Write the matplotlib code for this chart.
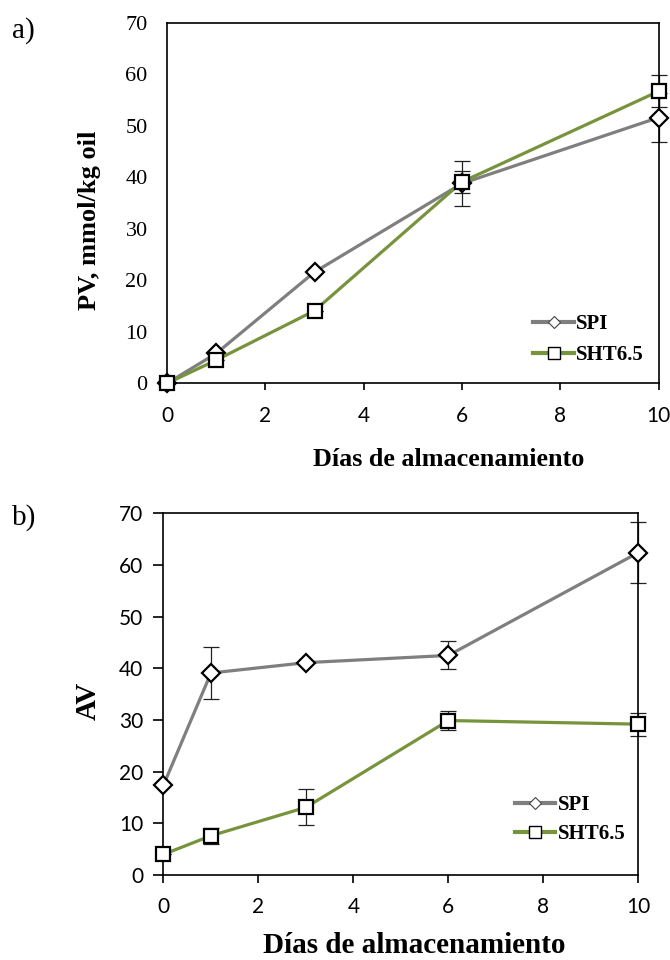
"""Peroxide value (PV) and anisidine value (AV) during storage, SPI vs SHT6.5."""

import matplotlib.pyplot as plt
from matplotlib.lines import Line2D

days = [0, 1, 3, 6, 10]

# a) PV, mmol/kg oil
pv_spi = [0.0, 5.8, 21.6, 38.8, 51.6]
pv_spi_err = [0.0, 0.0, 0.0, 4.4, 4.7]
pv_sht = [0.0, 4.5, 14.1, 39.1, 56.7]
pv_sht_err = [0.0, 0.0, 0.0, 2.2, 3.1]

# b) AV
av_spi = [17.4, 39.1, 41.1, 42.5, 62.4]
av_spi_err = [0.0, 5.1, 0.0, 2.7, 5.9]
av_sht = [4.0, 7.6, 13.1, 29.9, 29.2]
av_sht_err = [0.0, 1.5, 3.5, 1.9, 2.2]

GRAY = "#7F7F7F"
GREEN = "#77933C"
SERIF = "Liberation Serif"
SANS = "Lato"


def draw_panel(ax, spi, spi_err, sht, sht_err, legend_anchor, labelspacing):
    for y, err, color, marker, ms in [
        (spi, spi_err, GRAY, "D", 9),
        (sht, sht_err, GREEN, "s", 10),
    ]:
        ax.errorbar(days, y, yerr=err, fmt="none", ecolor="#222222",
                    elinewidth=0.9, capsize=5.5, capthick=0.9, clip_on=False, zorder=2)
        ax.plot(days, y, color=color, linewidth=2.3, marker=marker, markersize=ms,
                markerfacecolor="white", markeredgecolor="black",
                markeredgewidth=1.6, clip_on=False, zorder=3)

    ax.set_xlim(0, 10)
    ax.set_ylim(0, 70)
    ax.set_xticks([0, 2, 4, 6, 8, 10])
    ax.set_yticks(range(0, 80, 10))
    for spine in ax.spines.values():
        spine.set_linewidth(1.2)

    handles = [
        Line2D([], [], color=GRAY, linewidth=3, marker="D", markersize=6,
               markerfacecolor="white", markeredgecolor="#444444", markeredgewidth=0.8),
        Line2D([], [], color=GREEN, linewidth=3, marker="s", markersize=8,
               markerfacecolor="white", markeredgecolor="black", markeredgewidth=1.0),
    ]
    ax.legend(handles, ["SPI", "SHT6.5"], loc="center left", bbox_to_anchor=legend_anchor,
              frameon=False, borderaxespad=0, borderpad=0, handlelength=1.95,
              handletextpad=0.1, labelspacing=labelspacing,
              prop={"family": SERIF, "weight": "bold", "size": 15})


fig = plt.figure(figsize=(6.7, 9.6), dpi=100)

ax_a = fig.add_axes([0.2493, 0.6007, 0.7337, 0.3756])
draw_panel(ax_a, pv_spi, pv_spi_err, pv_sht, pv_sht_err, (0.745, 0.121), 0.54)
ax_a.tick_params(axis="y", length=0, pad=14)
ax_a.tick_params(axis="x", direction="out", length=5, width=1.2, pad=11)
for lbl in ax_a.get_yticklabels():
    lbl.set_fontfamily(SERIF)
    lbl.set_fontsize(16)
for lbl in ax_a.get_xticklabels():
    lbl.set_fontfamily(SANS)
    lbl.set_fontsize(15)

ax_b = fig.add_axes([0.2440, 0.0885, 0.7087, 0.3768])
draw_panel(ax_b, av_spi, av_spi_err, av_sht, av_sht_err, (0.740, 0.153), 0.45)
ax_b.tick_params(axis="y", direction="out", length=7, width=1.2, pad=7.5)
ax_b.tick_params(axis="x", direction="out", length=5.8, width=1.2, pad=10)
for lbl in ax_b.get_xticklabels() + ax_b.get_yticklabels():
    lbl.set_fontfamily(SANS)
    lbl.set_fontsize(15)

fig.text(0.018, 0.968, "a)", family=SERIF, fontsize=21, va="center")
fig.text(0.018, 0.461, "b)", family=SERIF, fontsize=21, va="center")

fig.text(0.134, 0.770, "PV, mmol/kg oil", family=SERIF, weight="bold", fontsize=19,
         rotation=90, ha="center", va="center")
fig.text(0.669, 0.521, "Días de almacenamiento", family=SERIF, weight="bold",
         fontsize=18.8, ha="center", va="center")

fig.text(0.131, 0.270, "AV", family=SERIF, weight="bold", fontsize=21,
         rotation=90, ha="center", va="center")
fig.text(0.618, 0.0156, "Días de almacenamiento", family=SERIF, weight="bold",
         fontsize=21, ha="center", va="center")

fig.savefig("out.png", dpi=100)
plt.close(fig)
